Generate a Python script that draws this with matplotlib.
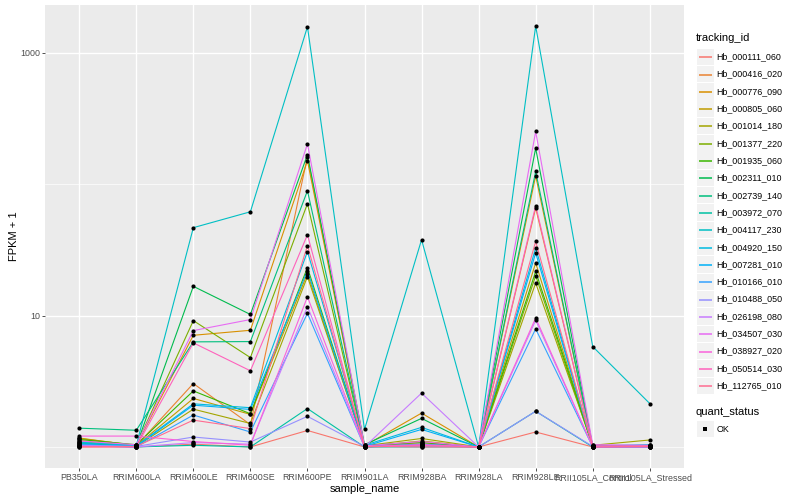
import numpy as np
import matplotlib.pyplot as plt
from matplotlib.patches import Rectangle

samples = ["PB350LA", "RRIM600LA", "RRIM600LE", "RRIM600SE", "RRIM600PE",
           "RRIM901LA", "RRIM928BA", "RRIM928LA", "RRIM928LE",
           "RRII105LA_Control", "RRII105LA_Stressed"]

tracking_ids = ["Hb_000111_060", "Hb_000416_020", "Hb_000776_090", "Hb_000805_060",
                "Hb_001014_180", "Hb_001377_220", "Hb_001935_060", "Hb_002311_010",
                "Hb_002739_140", "Hb_003972_070", "Hb_004117_230", "Hb_004920_150",
                "Hb_007281_010", "Hb_010166_010", "Hb_010488_050", "Hb_026198_080",
                "Hb_034507_030", "Hb_038927_020", "Hb_050514_030", "Hb_112765_010"]

# ggplot hue palette, 20 levels
colors = ["#F8766D", "#EA8331", "#D89000", "#C09B00", "#A3A500", "#7CAE00",
          "#39B600", "#00BB4E", "#00BF7D", "#00C1A3", "#00BFC4", "#00BAE0",
          "#00B0F6", "#35A2FF", "#9590FF", "#C77CFF", "#E76BF3", "#FA62DB",
          "#FF62BC", "#FF6C91"]

# FPKM + 1, one row per tracking_id, columns follow samples
fpkm1 = [
    [1.00, 1.00, 1.05, 1.00, 1.335, 1.00, 1.02, 1.00, 1.30, 1.00, 1.00],   # 000111_060
    [1.12, 1.02, 3.04, 1.48, 162.0, 1.01, 1.08, 1.00, 65.9, 1.02, 1.01],   # 000416_020
    [1.16, 1.03, 7.08, 7.73, 151.0, 1.02, 1.81, 1.00, 116.0, 1.01, 1.02],  # 000776_090
    [1.17, 1.02, 2.34, 1.77, 20.9, 1.01, 1.11, 1.00, 25.2, 1.00, 1.01],    # 000805_060
    [1.10, 1.01, 1.94, 1.51, 19.8, 1.02, 1.16, 1.00, 17.7, 1.03, 1.13],    # 001014_180
    [1.08, 1.03, 9.16, 4.79, 71.1, 1.00, 1.05, 1.00, 20.1, 1.01, 1.02],    # 001377_220
    [1.14, 1.04, 2.67, 1.79, 23.2, 1.03, 1.08, 1.00, 21.7, 1.02, 1.00],    # 001935_060
    [1.06, 1.02, 16.7, 10.2, 168.0, 1.04, 1.65, 1.00, 188.0, 1.01, 1.03],  # 002311_010
    [1.39, 1.34, 6.31, 6.34, 89.2, 1.02, 1.04, 1.00, 125.0, 1.00, 1.01],   # 002739_140
    [1.02, 1.00, 1.03, 1.00, 1.96, 1.00, 1.00, 1.00, 1.87, 1.00, 1.00],    # 003972_070
    [1.07, 1.03, 46.7, 61.7, 1580.0, 1.36, 37.8, 1.00, 1600.0, 5.81, 2.14],  # 004117_230
    [1.09, 1.02, 2.13, 1.99, 30.7, 1.03, 1.41, 1.00, 32.7, 1.02, 1.04],    # 004920_150
    [1.05, 1.01, 2.08, 1.93, 22.0, 1.01, 1.36, 1.00, 30.0, 1.01, 1.02],    # 007281_010
    [1.04, 1.00, 1.75, 1.30, 10.4, 1.00, 1.05, 1.00, 7.92, 1.00, 1.00],    # 010166_010
    [1.03, 1.01, 1.19, 1.09, 1.71, 1.01, 1.02, 1.00, 1.87, 1.01, 1.00],    # 010488_050
    [1.02, 1.00, 1.08, 1.05, 11.7, 1.00, 2.57, 1.00, 9.21, 1.00, 1.01],    # 026198_080
    [1.11, 1.04, 7.69, 9.33, 203.0, 1.02, 1.10, 1.00, 252.0, 1.04, 1.03],  # 034507_030
    [1.21, 1.21, 1.10, 1.03, 13.9, 1.01, 1.04, 1.00, 9.60, 1.00, 1.00],    # 038927_020
    [1.01, 1.00, 6.20, 3.80, 41.3, 1.00, 1.03, 1.00, 68.6, 1.02, 1.02],    # 050514_030
    [1.00, 1.01, 1.60, 1.38, 34.1, 1.01, 1.00, 1.00, 36.7, 1.00, 1.01],    # 112765_010
]

FONT = "Liberation Sans"
plt.rcParams['font.family'] = [FONT, 'DejaVu Sans']

W, H = 800, 500
fig = plt.figure(figsize=(8, 5), dpi=100)
ax = fig.add_axes([45 / W, 1 - 468 / H, (684 - 45) / W, (468 - 5) / H])
ax.set_facecolor("#EBEBEB")

x = np.arange(len(samples))
for vals, col in zip(fpkm1, colors):
    ax.plot(x, vals, color=col, lw=0.8, zorder=3)
for vals in fpkm1:
    ax.plot(x, vals, 'o', color='black', ms=3.0, mew=0, zorder=4)

ax.set_yscale('log')
lo, hi = 0.0, np.log10(1600.0)
pad = (hi - lo) * 0.05
ax.set_ylim(10 ** (lo - pad), 10 ** (hi + pad))
ax.set_xlim(-0.6, len(samples) - 0.4)

ax.set_yticks([10, 1000])
ax.set_yticks([1, 100], minor=True)
ax.set_yticklabels(["10", "1000"])
ax.yaxis.set_minor_formatter(plt.NullFormatter())
ax.set_xticks(x)
ax.set_xticklabels(samples)

ax.grid(True, which='major', color='white', lw=1.0)
ax.grid(True, which='minor', axis='y', color='white', lw=0.5)
ax.set_axisbelow(True)
for s in ax.spines.values():
    s.set_visible(False)
ax.tick_params(which='major', length=2.0, width=0.6, color='#333333',
               labelsize=6.4, labelcolor='#4D4D4D', pad=1.5)
ax.tick_params(which='minor', length=0)

ax.set_xlabel("sample_name", fontsize=8.0, labelpad=1.5)
ax.set_ylabel("FPKM + 1", fontsize=8.0, labelpad=1)

# legends drawn in pixel space on an overlay
lax = fig.add_axes([0, 0, 1, 1])
lax.set_xlim(0, W)
lax.set_ylim(H, 0)
lax.axis('off')

lax.text(696, 38, "tracking_id", fontsize=8.0, va='center', ha='left')
y0, step = 56.7, 17.32
for i, (tid, col) in enumerate(zip(tracking_ids, colors)):
    yc = y0 + i * step
    lax.add_patch(Rectangle((697, yc - 8.2), 16.5, 16.4, facecolor='#F2F2F2',
                            edgecolor='none'))
    yl = np.floor(yc) + 0.5
    lax.plot([698.5, 711.5], [yl, yl], color=col, lw=1.1, solid_capstyle='butt')
    lax.text(716.5, yc, tid, fontsize=6.4, va='center', ha='left')

lax.text(696, 412, "quant_status", fontsize=8.0, va='center', ha='left')
lax.add_patch(Rectangle((697, 421), 16.5, 16.4, facecolor='#F2F2F2', edgecolor='none'))
lax.plot([705.2], [429.2], 's', color='black', ms=2.6, mew=0)
lax.text(716.5, 429.2, "OK", fontsize=6.4, va='center', ha='left')

fig.savefig("out.png", dpi=100)
